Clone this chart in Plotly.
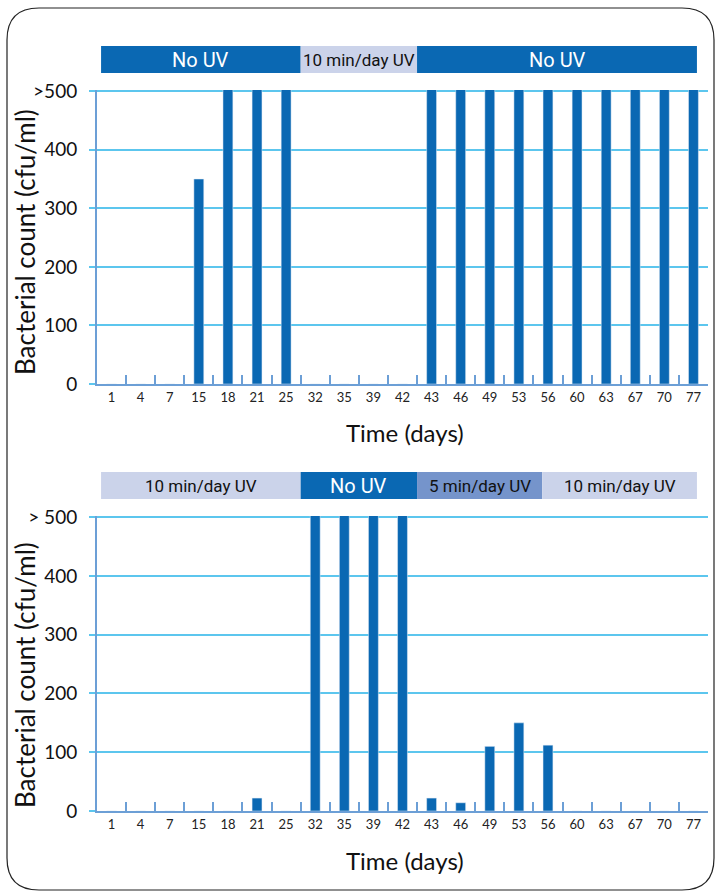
import plotly.graph_objects as go

W, H = 715, 893

days = ["1", "4", "7", "15", "18", "21", "25", "32", "35", "39", "42",
        "43", "46", "49", "53", "56", "60", "63", "67", "70", "77"]
# ">500" shown as 510
top_counts = [0, 0, 0, 350, 510, 510, 510, 0, 0, 0, 0,
              510, 510, 510, 510, 510, 510, 510, 510, 510, 510]
bottom_counts = [0, 0, 0, 0, 0, 22, 0, 510, 510, 510, 510,
                 22, 14, 110, 150, 112, 0, 0, 0, 0, 0]

y_tickvals = [0, 100, 200, 300, 400, 500]
top_ticktext = ["0", "100", "200", "300", "400", ">500"]
bottom_ticktext = ["0", "100", "200", "300", "400", "> 500"]

# treatment phases: label, start (category units), end, style
top_phases = [("No UV", -0.36, 6.5, "none"),
              ("10 min/day UV", 6.5, 10.5, "ten"),
              ("No UV", 10.5, 20.12, "none")]
bottom_phases = [("10 min/day UV", -0.36, 6.5, "ten"),
                 ("No UV", 6.5, 10.5, "none"),
                 ("5 min/day UV", 10.5, 14.8, "five"),
                 ("10 min/day UV", 14.8, 20.12, "ten")]

BAR = "#0a68b3"
phase_fill = {"none": "#0a68b3", "ten": "#cbd3ea", "five": "#7594cb"}
phase_font = {"none": "white", "ten": "#111111", "five": "#111111"}
phase_size = {"none": 20, "ten": 17, "five": 17}
GRID = "#5cc6ee"
AXIS = "#6c9fd6"

def px_x(p):
    return p / W

def px_y(p):
    return 1 - p / H

fig = go.Figure()
fig.add_trace(go.Bar(x=days, y=top_counts, marker_color=BAR, xaxis="x", yaxis="y",
                     showlegend=False, cliponaxis=False))
fig.add_trace(go.Bar(x=days, y=bottom_counts, marker_color=BAR, xaxis="x2", yaxis="y2",
                     showlegend=False, cliponaxis=False))

xdom = [px_x(97), px_x(708)]
ydom_top = [px_y(384), px_y(90)]
ydom_bot = [px_y(811), px_y(516)]

tickfont_x = dict(family="Lato, DejaVu Sans", size=13, color="#222222")
tickfont_y = dict(family="Lato, DejaVu Sans", size=19, color="#111111")

common_x = dict(type="category", showgrid=False, showline=True, linecolor=AXIS,
                linewidth=2, ticks="inside", tickson="boundaries", ticklen=9,
                tickcolor=AXIS, tickwidth=1.5, tickfont=tickfont_x,
                range=[-0.5, 20.5], fixedrange=True, zeroline=False,
                automargin=False)
common_y = dict(range=[0, 502], tickvals=y_tickvals, showgrid=True, gridcolor=GRID,
                gridwidth=1.5, showline=True, linecolor=AXIS, linewidth=2,
                ticks="outside", ticklen=6, tickcolor=GRID, tickwidth=1.5,
                tickfont=tickfont_y, zeroline=False, ticklabelstandoff=8,
                automargin=False)

fig.update_layout(
    width=W, height=H,
    margin=dict(l=0, r=0, t=0, b=0, autoexpand=False),
    paper_bgcolor="white", plot_bgcolor="white",
    bargap=0.66,
    xaxis=dict(domain=xdom, anchor="y", **common_x),
    yaxis=dict(domain=ydom_top, anchor="x", ticktext=top_ticktext, **common_y),
    xaxis2=dict(domain=xdom, anchor="y2", **common_x),
    yaxis2=dict(domain=ydom_bot, anchor="x2", ticktext=bottom_ticktext, **common_y),
)

shapes = []
annotations = []

# rounded border frame
r = 32
x0, y0, x1, y1 = 7, 8, 714, 890
path = (f"M {px_x(x0)},{px_y(y0 + r)} "
        f"Q {px_x(x0)},{px_y(y0)} {px_x(x0 + r)},{px_y(y0)} "
        f"L {px_x(x1 - r)},{px_y(y0)} "
        f"Q {px_x(x1)},{px_y(y0)} {px_x(x1)},{px_y(y0 + r)} "
        f"L {px_x(x1)},{px_y(y1 - r)} "
        f"Q {px_x(x1)},{px_y(y1)} {px_x(x1 - r)},{px_y(y1)} "
        f"L {px_x(x0 + r)},{px_y(y1)} "
        f"Q {px_x(x0)},{px_y(y1)} {px_x(x0)},{px_y(y1 - r)} Z")
shapes.append(dict(type="path", path=path, xref="paper", yref="paper",
                   line=dict(color="#222222", width=1.2), layer="below"))

def add_phases(phases, xref, ytop, ybot):
    for label, s, e, style in phases:
        shapes.append(dict(type="rect", xref=xref, yref="paper",
                           x0=s, x1=e, y0=px_y(ybot), y1=px_y(ytop),
                           fillcolor=phase_fill[style], line=dict(width=0),
                           layer="above"))
        annotations.append(dict(x=(s + e) / 2, y=px_y((ytop + ybot) / 2),
                                xref=xref, yref="paper", text=label,
                                showarrow=False, xanchor="center", yanchor="middle",
                                font=dict(family="Roboto", size=phase_size[style],
                                          color=phase_font[style])))

add_phases(top_phases, "x", 46, 73)
add_phases(bottom_phases, "x2", 472, 499)

ytitle_font = dict(family="Lato, DejaVu Sans", size=26, color="#111111")
xtitle_font = dict(family="Lato, DejaVu Sans", size=24, color="#111111")
for yc, xt in [(242, 433), (675, 860)]:
    annotations.append(dict(x=px_x(25), y=px_y(yc), xref="paper", yref="paper",
                            text="Bacterial count (cfu/ml)", textangle=-90,
                            showarrow=False, xanchor="center", yanchor="middle",
                            font=ytitle_font))
    annotations.append(dict(x=px_x(405), y=px_y(xt), xref="paper", yref="paper",
                            text="Time (days)", showarrow=False,
                            xanchor="center", yanchor="middle", font=xtitle_font))

fig.update_layout(shapes=shapes, annotations=annotations)

js = """
document.documentElement.style.margin='0px';
document.documentElement.style.overflow='hidden';
document.body.style.margin='0px';
document.body.style.padding='0px';
document.body.style.overflow='hidden';
"""
fig.write_html("out.html", config={"displayModeBar": False}, post_script=js)
